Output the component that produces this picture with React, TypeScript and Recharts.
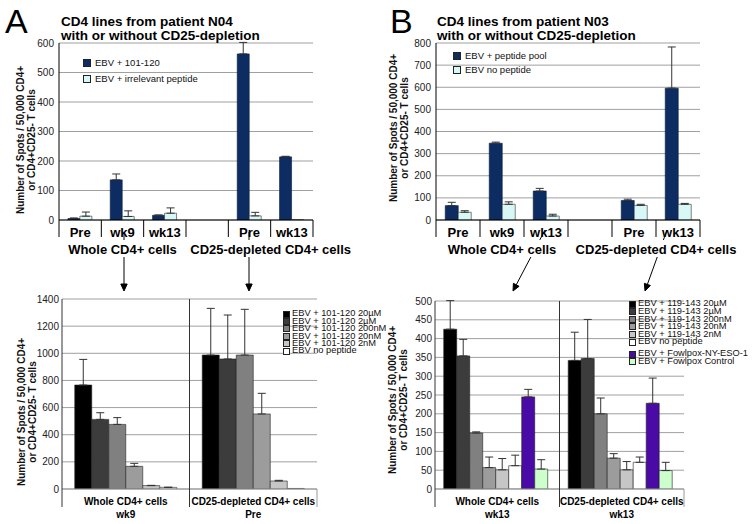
import React from "react";
import { BarChart, Bar, XAxis, YAxis, CartesianGrid, ErrorBar, Legend } from "recharts";

const FONT = "'Liberation Sans', Arial, Helvetica, sans-serif";

// ---- top panels (A: patient N04, B: patient N03) ----
const timesTop = ["Pre", "wk9", "wk13", "", "Pre", "wk13"];
const groupsTop = [
  { label: "Whole CD4+ cells", from: 0, to: 2 },
  { label: "CD25-depleted CD4+ cells", from: 4, to: 5 },
];

const peptideA = [5, 136, 16, null, 563, 214];
const peptideErrA = [2, 20, 1, null, 39, 2];
const irrelevantA = [13, 12, 23, null, 14, 1];
const irrelevantErrA = [14, 19, 18, null, 12, null];
const ticksA = [0, 100, 200, 300, 400, 500, 600];

const poolB = [65, 347, 131, null, 88, 596];
const poolErrB = [15, 5, 12, null, 6, 186];
const noPepB = [35, 71, 18, null, 66, 71];
const noPepErrB = [7, 11, 8, null, 5, 4];
const ticksB = [0, 100, 200, 300, 400, 500, 600, 700, 800];

// ---- bottom panels ----
const groupsBottom = ["Whole CD4+ cells", "CD25-depleted CD4+ cells"];

const timesC = ["wk9", "Pre"];
const namesC = [
  "EBV + 101-120 20µM",
  "EBV + 101-120 2µM",
  "EBV + 101-120 200nM",
  "EBV + 101-120 20nM",
  "EBV + 101-120 2nM",
  "EBV no peptide",
];
const colorsC = ["#000000", "#3c3c3c", "#808080", "#9c9c9c", "#c6c6c6", "#ffffff"];
const c20uM = [766, 987];
const c2uM = [513, 958];
const c200nM = [476, 987];
const c20nM = [167, 553];
const c2nM = [25, 59];
const cNoPep = [12, 4];
const c20uMErr = [189, 344];
const c2uMErr = [49, 324];
const c200nMErr = [50, 337];
const c20nMErr = [22, 152];
const c2nMErr = [2, 5];
const cNoPepErr = [1, null];
const ticksC = [0, 200, 400, 600, 800, 1000, 1200, 1400];

const timesD = ["wk13", "wk13"];
const namesD = [
  "EBV + 119-143 20µM",
  "EBV + 119-143 2µM",
  "EBV + 119-143 200nM",
  "EBV + 119-143 20nM",
  "EBV + 119-143 2nM",
  "EBV no peptide",
  "EBV + Fowlpox-NY-ESO-1",
  "EBV + Fowlpox Control",
];
const colorsD = ["#000000", "#3c3c3c", "#808080", "#9c9c9c", "#c6c6c6", "#ffffff", "#4a0aa6", "#ccffcc"];
const d20uM = [425, 342];
const d2uM = [354, 347];
const d200nM = [149, 200];
const d20nM = [57, 82];
const d2nM = [51, 51];
const dNoPep = [62, 71];
const dFowlNY = [245, 228];
const dFowlCtrl = [53, 49];
const d20uMErr = [76, 75];
const d2uMErr = [44, 104];
const d200nMErr = [3, 42];
const d20nMErr = [28, 12];
const d2nMErr = [30, 22];
const dNoPepErr = [28, 14];
const dFowlNYErr = [20, 67];
const dFowlCtrlErr = [25, 22];
const ticksD = [0, 50, 100, 150, 200, 250, 300, 350, 400, 450, 500];

const toErr = (e: number | null) => (e == null ? null : [0, e]);

const dataA = timesTop.map((t, i) => ({
  time: t,
  main: peptideA[i],
  mainErr: toErr(peptideErrA[i]),
  ctrl: irrelevantA[i],
  ctrlErr: toErr(irrelevantErrA[i]),
}));

const dataB = timesTop.map((t, i) => ({
  time: t,
  main: poolB[i],
  mainErr: toErr(poolErrB[i]),
  ctrl: noPepB[i],
  ctrlErr: toErr(noPepErrB[i]),
}));

function buildBottom(times: string[], values: number[][], errs: (number | null)[][]) {
  return groupsBottom.map((g, i) => {
    const row: any = { group: g, time: times[i] };
    values.forEach((v, k) => {
      row["s" + k] = v[i];
      row["e" + k] = toErr(errs[k][i]);
    });
    return row;
  });
}

const dataC = buildBottom(
  timesC,
  [c20uM, c2uM, c200nM, c20nM, c2nM, cNoPep],
  [c20uMErr, c2uMErr, c200nMErr, c20nMErr, c2nMErr, cNoPepErr]
);
const dataD = buildBottom(
  timesD,
  [d20uM, d2uM, d200nM, d20nM, d2nM, dNoPep, dFowlNY, dFowlCtrl],
  [d20uMErr, d2uMErr, d200nMErr, d20nMErr, d2nMErr, dNoPepErr, dFowlNYErr, dFowlCtrlErr]
);

// category ticks with separators between categories, plus group label under them
function TopTick(props: any) {
  const { x, y, payload, index, band, count } = props;
  const g = groupsTop.find((gr) => gr.from === index);
  const gx = g ? x + ((g.from + g.to) / 2 - index) * band : 0;
  return (
    <g>
      <line x1={x - band / 2} x2={x - band / 2} y1={y} y2={y + 17} stroke="#000" />
      {index === count - 1 && (
        <line x1={x + band / 2} x2={x + band / 2} y1={y} y2={y + 17} stroke="#000" />
      )}
      <text x={x} y={y + 16.7} textAnchor="middle" fontSize={13} fontWeight="bold" fill="#000" fontFamily={FONT}>
        {payload.value}
      </text>
      {g && (
        <text x={gx} y={y + 33.7} textAnchor="middle" fontSize={13} fontWeight="bold" fill="#000" fontFamily={FONT}>
          {g.label}
        </text>
      )}
    </g>
  );
}

function BottomTick(props: any) {
  const { x, y, payload, index, band, count, plotH, times } = props;
  const top = index === 0 ? y : y - plotH;
  return (
    <g>
      <line x1={x - band / 2} x2={x - band / 2} y1={top} y2={y + 18} stroke="#333" />
      {index === count - 1 && (
        <line x1={x + band / 2} x2={x + band / 2} y1={y} y2={y + 18} stroke="#999" />
      )}
      <text x={x} y={y + 16} textAnchor="middle" fontSize={10} fontWeight="bold" fill="#000" fontFamily={FONT}>
        {payload.value}
      </text>
      <text x={x} y={y + 28.5} textAnchor="middle" fontSize={10} fontWeight="bold" fill="#000" fontFamily={FONT}>
        {times[index]}
      </text>
    </g>
  );
}

function makeLegend(opts: {
  order: string[];
  step: number;
  size: number;
  font: number;
  gapAfter?: number;
  gap?: number;
  textGap: number;
}) {
  return (props: any) => {
    const items = [...(props.payload || [])].sort(
      (a: any, b: any) => opts.order.indexOf(a.value) - opts.order.indexOf(b.value)
    );
    return (
      <div style={{ position: "relative", fontFamily: FONT, fontSize: opts.font, color: "#111" }}>
        {items.map((it: any, i: number) => {
          const extra = opts.gapAfter != null && i > opts.gapAfter ? opts.gap || 0 : 0;
          const fill = (it.payload && it.payload.fill) || it.color;
          return (
            <div
              key={i}
              style={{
                position: "absolute",
                left: 0,
                top: i * opts.step + extra,
                height: opts.size,
                display: "flex",
                alignItems: "center",
                whiteSpace: "nowrap",
                lineHeight: 1,
              }}
            >
              <span
                style={{
                  display: "inline-block",
                  width: opts.size,
                  height: opts.size,
                  background: fill,
                  border: "1px solid #222",
                  boxSizing: "border-box",
                  marginRight: opts.textGap,
                }}
              />
              <span>{it.value}</span>
            </div>
          );
        })}
      </div>
    );
  };
}

const legendA = makeLegend({ order: ["EBV + 101-120", "EBV + irrelevant peptide"], step: 16, size: 8, font: 9.5, textGap: 4 });
const legendB = makeLegend({ order: ["EBV + peptide pool", "EBV no peptide"], step: 14, size: 8, font: 9.5, textGap: 4 });
const legendC = makeLegend({ order: namesC, step: 7.4, size: 7, font: 9.3, textGap: 2 });
const legendD = makeLegend({ order: namesD, step: 7.6, size: 7, font: 9.3, gapAfter: 5, gap: 4.5, textGap: 2 });

function TopPanel(props: any) {
  const { left, data, ticks, margin, mainName, ctrlName, legendPos, legend } = props;
  const w = 377;
  const h = 270;
  const yW = 30;
  const band = (w - margin.left - yW - margin.right) / data.length;
  return (
    <div style={{ position: "absolute", left, top: 0 }}>
      <BarChart width={w} height={h} data={data} margin={margin} barGap={0} barCategoryGap="21%" style={{ fontFamily: FONT }}>
        <CartesianGrid vertical={false} stroke="#a0a0a0" />
        <XAxis
          dataKey="time"
          interval={0}
          height={40}
          tickSize={0}
          tickMargin={0}
          tickLine={false}
          axisLine={{ stroke: "#000" }}
          tick={(p: any) => <TopTick {...p} band={band} count={data.length} />}
        />
        <YAxis
          width={yW}
          domain={[0, ticks[ticks.length - 1]]}
          ticks={ticks}
          allowDataOverflow
          interval={0}
          tickSize={0}
          tickMargin={5}
          tickLine={false}
          axisLine={{ stroke: "#000" }}
          tick={{ fontSize: 10, fill: "#222", fontFamily: FONT }}
        />
        <Legend
          layout="horizontal"
          align="center"
          verticalAlign="middle"
          content={legend}
          wrapperStyle={{ left: legendPos.left, top: legendPos.top, width: 200, height: 30 }}
        />
        <Bar dataKey="main" name={mainName} fill="#0d2d62" stroke="#08193a" strokeWidth={0.6} isAnimationActive={false}>
          <ErrorBar dataKey="mainErr" width={4} stroke="#333" strokeWidth={1} direction="y" />
        </Bar>
        <Bar dataKey="ctrl" name={ctrlName} fill="#d8f7f7" stroke="#333" strokeWidth={0.6} isAnimationActive={false}>
          <ErrorBar dataKey="ctrlErr" width={4} stroke="#333" strokeWidth={1} direction="y" />
        </Bar>
      </BarChart>
    </div>
  );
}

function BottomPanel(props: any) {
  const { left, data, ticks, margin, yW, names, colors, times, gapPct, legendPos, legend } = props;
  const w = 377;
  const h = 254;
  const xH = 30;
  const band = (w - margin.left - yW - margin.right) / data.length;
  const plotH = h - margin.top - margin.bottom - xH;
  return (
    <div style={{ position: "absolute", left, top: 270 }}>
      <BarChart width={w} height={h} data={data} margin={margin} barGap={0} barCategoryGap={gapPct} style={{ fontFamily: FONT }}>
        <CartesianGrid vertical={false} stroke="#a0a0a0" />
        <XAxis
          dataKey="group"
          interval={0}
          height={xH}
          tickSize={0}
          tickMargin={0}
          tickLine={false}
          axisLine={{ stroke: "#999" }}
          tick={(p: any) => (
            <BottomTick {...p} band={band} count={data.length} plotH={plotH} times={times} />
          )}
        />
        <YAxis
          width={yW}
          domain={[0, ticks[ticks.length - 1]]}
          ticks={ticks}
          allowDataOverflow
          interval={0}
          tickSize={0}
          tickMargin={3}
          tickLine={false}
          axisLine={{ stroke: "#333" }}
          tick={{ fontSize: 10, fill: "#222", fontFamily: FONT }}
        />
        <Legend
          layout="horizontal"
          align="center"
          verticalAlign="middle"
          content={legend}
          wrapperStyle={{ left: legendPos.left, top: legendPos.top, width: 120, height: 60 }}
        />
        {names.map((n: string, k: number) => (
          <Bar key={n} dataKey={"s" + k} name={n} fill={colors[k]} stroke="#222" strokeWidth={0.6} isAnimationActive={false}>
            <ErrorBar dataKey={"e" + k} width={4} stroke="#333" strokeWidth={1} direction="y" />
          </Bar>
        ))}
      </BarChart>
    </div>
  );
}

function YLabel({ cx, cy }: { cx: number; cy: number }) {
  return (
    <div
      style={{
        position: "absolute",
        left: cx - 100,
        top: cy - 12,
        width: 200,
        height: 24,
        transform: "rotate(-90deg)",
        textAlign: "center",
        fontFamily: FONT,
        fontWeight: "bold",
        fontSize: 10,
        lineHeight: "11px",
        color: "#111",
        whiteSpace: "nowrap",
      }}
    >
      Number of Spots / 50,000 CD4+
      <br />
      or CD4+CD25- T cells
    </div>
  );
}

const titleStyle: React.CSSProperties = {
  position: "absolute",
  top: 15,
  fontFamily: FONT,
  fontWeight: "bold",
  fontSize: 13.5,
  lineHeight: "14px",
  color: "#000",
  whiteSpace: "nowrap",
};

const letterStyle: React.CSSProperties = {
  position: "absolute",
  top: 3.5,
  fontFamily: FONT,
  fontSize: 34,
  lineHeight: "34px",
  color: "#000",
};

const arrows = [
  { x0: 124, y0: 232, x1: 124, y1: 291 },
  { x0: 249, y0: 232, x1: 249, y1: 291 },
  { x0: 545, y0: 230, x1: 513, y1: 291 },
  { x0: 667, y0: 230, x1: 645, y1: 291 },
];

function Arrow({ x0, y0, x1, y1 }: { x0: number; y0: number; x1: number; y1: number }) {
  const at = (yy: number) => x0 + ((yy - y0) / (y1 - y0)) * (x1 - x0);
  const len = Math.hypot(x1 - x0, y1 - y0);
  const dx = (x1 - x0) / len;
  const dy = (y1 - y0) / len;
  const bx = x1 - 7 * dx;
  const by = y1 - 7 * dy;
  const head = `${x1},${y1} ${bx - 3.2 * dy},${by + 3.2 * dx} ${bx + 3.2 * dy},${by - 3.2 * dx}`;
  return (
    <g stroke="#000" strokeWidth={1}>
      <line x1={at(y0)} y1={y0} x2={at(240)} y2={240} />
      <line x1={at(257)} y1={257} x2={bx} y2={by} />
      <polygon points={head} fill="#000" />
    </g>
  );
}

export default function App() {
  return (
    <div
      style={{
        position: "absolute",
        left: 0,
        top: 0,
        width: 754,
        height: 524,
        background: "#fff",
        overflow: "hidden",
        fontFamily: FONT,
      }}
    >
      <TopPanel
        left={0}
        data={dataA}
        ticks={ticksA}
        margin={{ top: 43, right: 64, bottom: 10, left: 29 }}
        mainName="EBV + 101-120"
        ctrlName="EBV + irrelevant peptide"
        legendPos={{ left: 83, top: 59 }}
        legend={legendA}
      />
      <TopPanel
        left={377}
        data={dataB}
        ticks={ticksB}
        margin={{ top: 43, right: 54, bottom: 10, left: 29 }}
        mainName="EBV + peptide pool"
        ctrlName="EBV no peptide"
        legendPos={{ left: 76, top: 52 }}
        legend={legendB}
      />
      <BottomPanel
        left={0}
        data={dataC}
        ticks={ticksC}
        margin={{ top: 29, right: 60, bottom: 5, left: 28 }}
        yW={34}
        names={namesC}
        colors={colorsC}
        times={timesC}
        gapPct="10%"
        legendPos={{ left: 283, top: 40.5 }}
        legend={legendC}
      />
      <BottomPanel
        left={377}
        data={dataD}
        ticks={ticksD}
        margin={{ top: 31, right: 70, bottom: 5, left: 26 }}
        yW={32}
        names={namesD}
        colors={colorsD}
        times={timesD}
        gapPct="7%"
        legendPos={{ left: 252, top: 30.5 }}
        legend={legendD}
      />

      <div style={{ ...letterStyle, left: 5 }}>A</div>
      <div style={{ ...letterStyle, left: 390 }}>B</div>
      <div style={{ ...titleStyle, left: 61 }}>
        CD4 lines from patient N04
        <br />
        with or without CD25-depletion
      </div>
      <div style={{ ...titleStyle, left: 437 }}>
        CD4 lines from patient N03
        <br />
        with or without CD25-depletion
      </div>

      <YLabel cx={27} cy={140} />
      <YLabel cx={400} cy={128} />
      <YLabel cx={28} cy={412} />
      <YLabel cx={399} cy={400} />

      <svg width={754} height={524} style={{ position: "absolute", left: 0, top: 0, pointerEvents: "none" }}>
        {arrows.map((a, i) => (
          <Arrow key={i} {...a} />
        ))}
      </svg>
    </div>
  );
}
